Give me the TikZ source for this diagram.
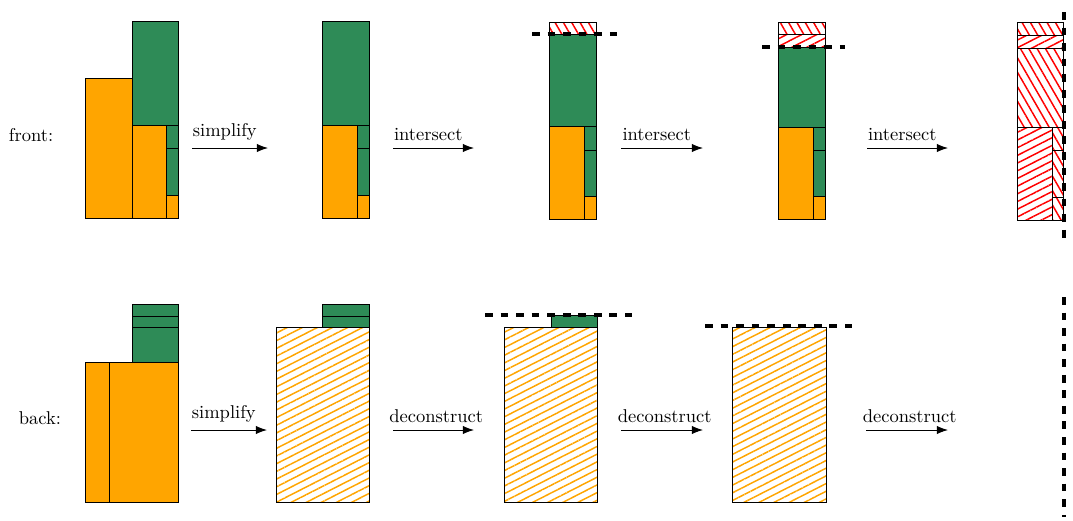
\documentclass[tikz,border=0pt]{standalone}
\usetikzlibrary{patterns.meta,arrows.meta}
\definecolor{myorange}{HTML}{FFA500}
\definecolor{mygreen}{HTML}{2E8B57}
\tikzset{
  orb/.style={fill=myorange,draw=black,line width=0.5pt},
  grb/.style={fill=mygreen,draw=black,line width=0.5pt},
  hnw/.style={draw=black,line width=0.5pt,pattern={Lines[angle=-60,distance=3.9pt,line width=0.8pt]},pattern color=red},
  hne/.style={draw=black,line width=0.5pt,pattern={Lines[angle=27,distance=3.7pt,line width=0.8pt]},pattern color=red},
  hor/.style={draw=black,line width=0.5pt,pattern={Lines[angle=27,distance=3.7pt,line width=0.8pt]},pattern color=myorange},
  cut/.style={line width=1.7pt,dash pattern=on 4.2pt off 4.2pt},
  op/.style={-{Latex[length=6pt,width=4.5pt]},line width=0.5pt},
  lbl/.style={font=\normalsize},
  oplbl/.style={above,xshift=-2.8pt,yshift=0.5pt,font=\normalsize},
  oplblw/.style={above,xshift=1.5pt,yshift=0.5pt,font=\normalsize}
}
\begin{document}
\begin{tikzpicture}[x=0.54pt,y=-0.54pt]
\useasboundingbox (0,0) rectangle (1073,520);
% labels
\node[lbl] (front) at (31,135) {front:};
\node[lbl] (back) at (40,418) {back:};
% ---- front panel 1
\draw[orb] (85,78) rectangle (132,218);
\draw[grb] (132,21) rectangle (178,125);
\draw[orb] (132,125) rectangle (166.5,218);
\draw[grb] (166.5,125) rectangle (178,148);
\draw[grb] (166.5,148) rectangle (178,195);
\draw[orb] (166.5,195) rectangle (178,218);
% ---- front panel 2
\draw[grb] (322,21) rectangle (369,125);
\draw[orb] (322,125) rectangle (357,218);
\draw[grb] (357,125) rectangle (369,148);
\draw[grb] (357,148) rectangle (369,195);
\draw[orb] (357,195) rectangle (369,218);
% ---- front panel 3
\draw[hnw] (549,22) rectangle (596,34);
\draw[grb] (549,34) rectangle (596,126);
\draw[orb] (549,126) rectangle (584,219);
\draw[grb] (584,126) rectangle (596,150);
\draw[grb] (584,150) rectangle (596,196);
\draw[orb] (584,196) rectangle (596,219);
\coordinate (c3a) at (532,34); \coordinate (c3b) at (617,34);
\draw[cut] (c3a) -- (c3b);
% ---- front panel 4
\draw[hnw] (778,22) rectangle (825,34);
\draw[hne] (778,34) rectangle (825,47);
\draw[grb] (778,47) rectangle (825,127);
\draw[orb] (778,127) rectangle (813,219);
\draw[grb] (813,127) rectangle (825,150);
\draw[grb] (813,150) rectangle (825,196);
\draw[orb] (813,196) rectangle (825,219);
\coordinate (c4a) at (762,47); \coordinate (c4b) at (845,47);
\draw[cut] (c4a) -- (c4b);
% ---- front panel 5
\draw[hnw] (1017,22) rectangle (1063,35);
\draw[hne] (1017,35) rectangle (1063,48);
\draw[hnw] (1017,48) rectangle (1063,127);
\draw[hne] (1017,127) rectangle (1052,220);
\draw[hnw] (1052,127) rectangle (1063,150);
\draw[hnw] (1052,150) rectangle (1063,197);
\draw[hnw] (1052,197) rectangle (1063,220);
\coordinate (v1a) at (1064,12); \coordinate (v1b) at (1064,240);
\draw[cut] (v1a) -- (v1b);
% ---- back panel 1
\draw[grb] (132,304) rectangle (178,316);
\draw[grb] (132,316) rectangle (178,327);
\draw[grb] (132,327) rectangle (178,362);
\draw[orb] (85,362) rectangle (109,502);
\draw[orb] (109,362) rectangle (178,502);
% ---- back panel 2
\draw[grb] (322,304) rectangle (369,316);
\draw[grb] (322,316) rectangle (369,327);
\draw[hor] (276,327) rectangle (369,502);
% ---- back panel 3
\draw[grb] (551,315) rectangle (597,327);
\draw[hor] (504,327) rectangle (597,502);
\coordinate (b3a) at (485,315); \coordinate (b3b) at (632,315);
\draw[cut] (b3a) -- (b3b);
% ---- back panel 4
\draw[hor] (732,327) rectangle (826,502);
\coordinate (b4a) at (705,326); \coordinate (b4b) at (852,326);
\draw[cut] (b4a) -- (b4b);
\coordinate (v2a) at (1064,297); \coordinate (v2b) at (1064,517);
\draw[cut] (v2a) -- (v2b);
% ---- arrows front
\coordinate (f1a) at (192,148); \coordinate (f1b) at (268,148);
\coordinate (f2a) at (393,148); \coordinate (f2b) at (474,148);
\coordinate (f3a) at (621,148); \coordinate (f3b) at (703,148);
\coordinate (f4a) at (867,148); \coordinate (f4b) at (948,148);
\draw[op] (f1a) -- node[oplbl] (t1) {simplify} (f1b);
\draw[op] (f2a) -- node[oplbl] (t2) {intersect} (f2b);
\draw[op] (f3a) -- node[oplbl] (t3) {intersect} (f3b);
\draw[op] (f4a) -- node[oplbl] (t4) {intersect} (f4b);
% ---- arrows back
\coordinate (g1a) at (191,430); \coordinate (g1b) at (267,430);
\coordinate (g2a) at (393,430); \coordinate (g2b) at (474,430);
\coordinate (g3a) at (621,430); \coordinate (g3b) at (703,430);
\coordinate (g4a) at (866,430); \coordinate (g4b) at (948,430);
\draw[op] (g1a) -- node[oplbl] (u1) {simplify} (g1b);
\draw[op] (g2a) -- node[oplblw] (u2) {deconstruct} (g2b);
\draw[op] (g3a) -- node[oplblw] (u3) {deconstruct} (g3b);
\draw[op] (g4a) -- node[oplblw] (u4) {deconstruct} (g4b);
\end{tikzpicture}
\end{document}
